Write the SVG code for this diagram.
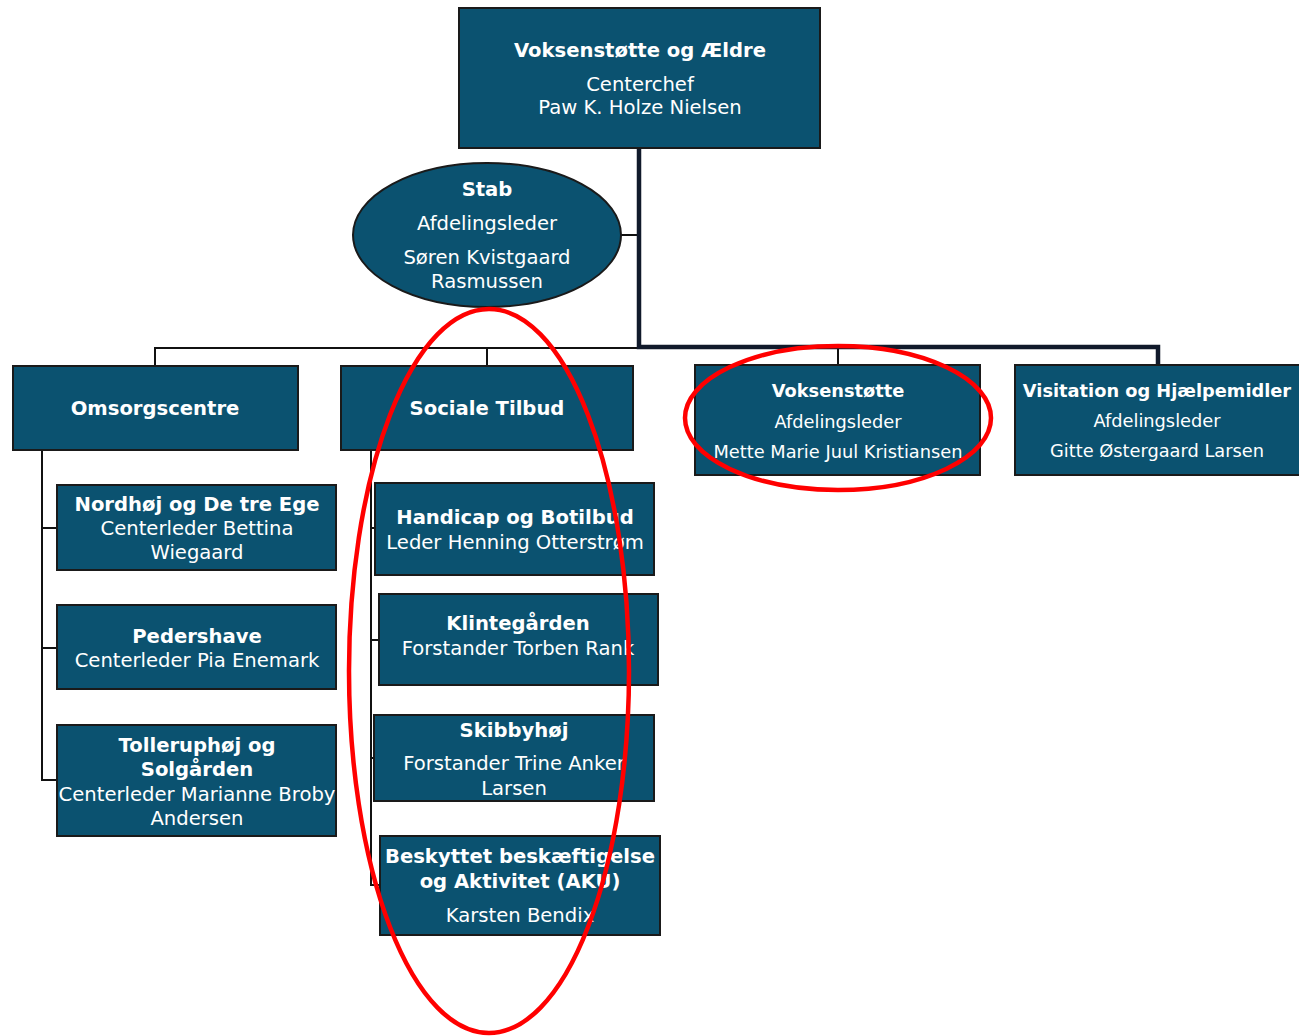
<svg xmlns="http://www.w3.org/2000/svg" width="1299" height="1036" viewBox="0 0 1299 1036">
<style>
.box{fill:#0b5270;stroke:#1a1a1a;stroke-width:2}
.t{font-family:"DejaVu Sans",Verdana,sans-serif;fill:#ffffff;text-anchor:middle;font-size:19.6px}
.b{font-weight:bold}
.s{font-size:17.8px}
.thin{fill:none;stroke:#111111;stroke-width:2}
.thick{fill:none;stroke:#111a2b;stroke-width:4.5}
.red{fill:none;stroke:#ff0000;stroke-width:4.5}
</style>
<rect width="1299" height="1036" fill="#ffffff"/>
<g id="connectors">
<path class="thin" d="M621,235 H639"/>
<path class="thin" d="M155,366 V348 H639"/>
<path class="thin" d="M487,348 V366"/>
<path class="thin" d="M838,347 V365"/>
<path class="thick" d="M639,148 V347 H1158 V365"/>
<path class="thin" d="M42,450 V780 H57 M42,528 H57 M42,648 H57"/>
<path class="thin" d="M371,450 V885 H380 M371,528 H375 M371,640 H379 M371,758 H374"/>
</g>
<g id="top">
<rect class="box" x="459" y="8" width="361" height="140"/>
<text class="t b" x="640" y="57">Voksenstøtte og Ældre</text>
<text class="t" x="640" y="91">Centerchef</text>
<text class="t" x="640" y="114">Paw K. Holze Nielsen</text>
</g>
<g id="stab">
<ellipse class="box" cx="487" cy="235" rx="134" ry="72"/>
<text class="t b" x="487" y="196">Stab</text>
<text class="t" x="487" y="230">Afdelingsleder</text>
<text class="t" x="487" y="264">Søren Kvistgaard</text>
<text class="t" x="487" y="288">Rasmussen</text>
</g>
<g id="omsorgscentre">
<rect class="box" x="13" y="366" width="285" height="84"/>
<text class="t b" x="155" y="415">Omsorgscentre</text>
</g>
<g id="sociale">
<rect class="box" x="341" y="366" width="292" height="84"/>
<text class="t b" x="487" y="415">Sociale Tilbud</text>
</g>
<g id="voksenstotte">
<rect class="box" x="695" y="365" width="285" height="110"/>
<text class="t b s" x="838" y="397">Voksenstøtte</text>
<text class="t s" x="838" y="428">Afdelingsleder</text>
<text class="t s" x="838" y="458">Mette Marie Juul Kristiansen</text>
</g>
<g id="visitation">
<rect class="box" x="1015" y="365" width="290" height="110"/>
<text class="t b s" x="1157" y="397">Visitation og Hjælpemidler</text>
<text class="t s" x="1157" y="427">Afdelingsleder</text>
<text class="t s" x="1157" y="457">Gitte Østergaard Larsen</text>
</g>
<g id="nordhoj">
<rect class="box" x="57" y="485" width="279" height="85"/>
<text class="t b" x="197" y="511">Nordhøj og De tre Ege</text>
<text class="t" x="197" y="535">Centerleder Bettina</text>
<text class="t" x="197" y="559">Wiegaard</text>
</g>
<g id="pedershave">
<rect class="box" x="57" y="605" width="279" height="84"/>
<text class="t b" x="197" y="643">Pedershave</text>
<text class="t" x="197" y="667">Centerleder Pia Enemark</text>
</g>
<g id="tolleruphoj">
<rect class="box" x="57" y="725" width="279" height="111"/>
<text class="t b" x="197" y="752">Tolleruphøj og</text>
<text class="t b" x="197" y="776">Solgården</text>
<text class="t" x="197" y="801">Centerleder Marianne Broby</text>
<text class="t" x="197" y="825">Andersen</text>
</g>
<g id="handicap">
<rect class="box" x="375" y="483" width="279" height="92"/>
<text class="t b" x="515" y="524">Handicap og Botilbud</text>
<text class="t" x="515" y="549">Leder Henning Otterstrøm</text>
</g>
<g id="klintegarden">
<rect class="box" x="379" y="594" width="279" height="91"/>
<text class="t b" x="518" y="630">Klintegården</text>
<text class="t" x="518" y="655">Forstander Torben Rank</text>
</g>
<g id="skibbyhoj">
<rect class="box" x="374" y="715" width="280" height="86"/>
<text class="t b" x="514" y="737">Skibbyhøj</text>
<text class="t" x="514" y="770">Forstander Trine Anker</text>
<text class="t" x="514" y="795">Larsen</text>
</g>
<g id="beskyttet">
<rect class="box" x="380" y="836" width="280" height="99"/>
<text class="t b" x="520" y="863">Beskyttet beskæftigelse</text>
<text class="t b" x="520" y="888">og Aktivitet (AKU)</text>
<text class="t" x="520" y="922">Karsten Bendix</text>
</g>
<g id="highlights">
<ellipse class="red" cx="489" cy="671" rx="140" ry="362"/>
<ellipse class="red" cx="838" cy="418" rx="153" ry="72"/>
</g>
</svg>
